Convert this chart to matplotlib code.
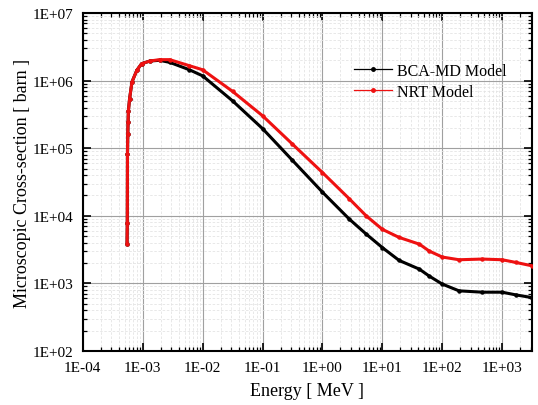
import numpy as np
import matplotlib.pyplot as plt
from matplotlib.lines import Line2D
from matplotlib.ticker import LogLocator, FuncFormatter, NullFormatter

plt.rcParams['font.family'] = ['Liberation Serif', 'DejaVu Serif']

# log10(energy / MeV) and log10(cross-section / barn)
bca_logE = [-3.262, -3.258, -3.255, -3.25, -3.245, -3.24, -3.22, -3.18, -3.10, -3.02,
            -2.88, -2.72, -2.55, -2.22, -2.0, -1.5, -1.0, -0.5, 0.0, 0.45,
            0.73, 1.0, 1.28, 1.62, 1.78, 2.0, 2.28, 2.67, 3.0, 3.23, 3.5]
bca_logS = [3.59, 3.89, 4.92, 5.21, 5.39, 5.55, 5.73, 5.98, 6.15, 6.25,
            6.29, 6.30, 6.27, 6.16, 6.07, 5.70, 5.29, 4.82, 4.35, 3.95,
            3.73, 3.53, 3.34, 3.21, 3.11, 2.99, 2.89, 2.87, 2.87, 2.83, 2.79]

nrt_logE = [-3.262, -3.258, -3.255, -3.25, -3.245, -3.24, -3.22, -3.18, -3.10, -3.02,
            -2.88, -2.72, -2.55, -2.22, -2.0, -1.5, -1.0, -0.5, 0.0, 0.45,
            0.73, 1.0, 1.28, 1.62, 1.78, 2.0, 2.28, 2.67, 3.0, 3.23, 3.5]
nrt_logS = [3.59, 3.89, 4.92, 5.21, 5.39, 5.55, 5.73, 5.98, 6.15, 6.25,
            6.29, 6.31, 6.31, 6.22, 6.16, 5.84, 5.48, 5.06, 4.64, 4.25,
            4.00, 3.80, 3.68, 3.58, 3.48, 3.39, 3.35, 3.36, 3.35, 3.31, 3.26]

bca_E = 10.0 ** np.array(bca_logE)
bca_S = 10.0 ** np.array(bca_logS)
nrt_E = 10.0 ** np.array(nrt_logE)
nrt_S = 10.0 ** np.array(nrt_logS)

fig = plt.figure(figsize=(5.38, 4.06), dpi=100)
ax = fig.add_axes([0.154, 0.133, 0.835, 0.8325])

ax.plot(bca_E, bca_S, color='black', lw=2.2, marker='o', ms=2.2, zorder=3)
ax.plot(nrt_E, nrt_S, color='#ee1111', lw=2.2, marker='o', ms=2.2, zorder=4)

ax.set_xscale('log')
ax.set_yscale('log')
ax.set_xlim(1e-4, 10 ** 3.5)
ax.set_ylim(1e2, 1e7)

fmt = FuncFormatter(lambda v, p: '1E%+03d' % int(round(np.log10(v))))
ax.xaxis.set_major_locator(LogLocator(base=10, numticks=20))
ax.yaxis.set_major_locator(LogLocator(base=10, numticks=20))
ax.xaxis.set_minor_locator(LogLocator(base=10, subs=np.arange(2, 10), numticks=50))
ax.yaxis.set_minor_locator(LogLocator(base=10, subs=np.arange(2, 10), numticks=50))
ax.xaxis.set_major_formatter(fmt)
ax.yaxis.set_major_formatter(fmt)
ax.xaxis.set_minor_formatter(NullFormatter())
ax.yaxis.set_minor_formatter(NullFormatter())

ax.grid(which='major', color='#a0a0a0', lw=0.8)
ax.grid(which='minor', color='#e4e4e4', lw=0.6, ls=(0, (3, 2)))
ax.set_axisbelow(True)

ax.tick_params(which='both', direction='in', top=True, right=True, labelsize=11)
ax.tick_params(which='major', length=6, width=1.2, pad=7)
ax.tick_params(which='minor', length=3, width=0.9)
for s in ax.spines.values():
    s.set_linewidth(1.5)

ax.set_xlabel('Energy [ MeV ]', fontsize=13, labelpad=6)
ax.set_ylabel('Microscopic Cross-section [ barn ]', fontsize=13, labelpad=1)

handles = [Line2D([], [], color='black', lw=0.9, marker='o', ms=2.5),
           Line2D([], [], color='#ee1111', lw=0.9, marker='o', ms=2.5)]
ax.legend(handles, ['BCA-MD Model', 'NRT Model'], loc='upper right',
          bbox_to_anchor=(0.975, 0.895), frameon=False, fontsize=11.5,
          handlelength=2.4, handletextpad=0.3, labelspacing=0.3)

fig.savefig('out.png', dpi=100)
